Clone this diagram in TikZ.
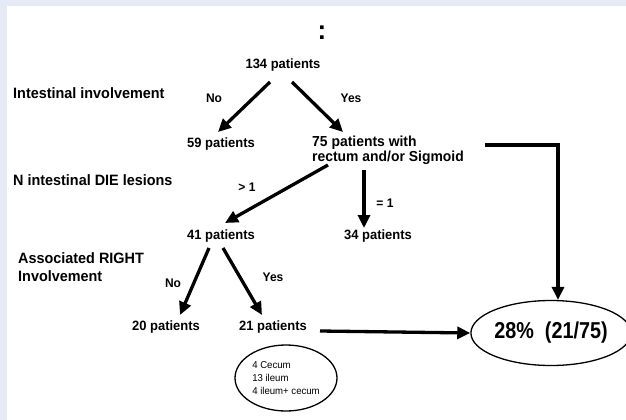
\documentclass[tikz,border=0pt]{standalone}
\usepackage{fontspec}
\setmainfont{Liberation Sans}[FakeStretch=0.96]
\newfontfamily\narrowfont{Liberation Sans}[FakeStretch=0.86]
\usetikzlibrary{arrows.meta,shapes.geometric}
\definecolor{framebg}{RGB}{229,234,246}
\tikzstyle{txt} = [font=\fontsize{13.5}{15}\selectfont\bfseries, inner sep=1pt]
\tikzstyle{cat} = [font=\fontsize{15}{18}\selectfont\bfseries, inner sep=1pt,
    anchor=west, align=left]
\tikzstyle{branch} = [font=\fontsize{12.5}{14}\selectfont\bfseries, inner sep=1pt]
\tikzstyle{flow} = [line width=3.3pt, -{Triangle[length=13pt,width=12pt]}]
\tikzstyle{result} = [draw, ellipse, line width=1.3pt, inner sep=0pt]

\begin{document}
\begin{tikzpicture}[x=1pt, y=-1pt, node distance=2cm]
    % frame
    \fill [framebg] (0,0) rectangle (626,420);
    \fill [white] (7,6) rectangle (626,420);
    \useasboundingbox (0,0) rectangle (626,420);

    % % % % % % % % % % % % % % % % % % % % % % %
    % Left column: the questions
    % % % % % % % % % % % % % % % % % % % % % % %
    \node [cat] (qint) at (12,93) {Intestinal involvement};
    \node [cat] (qdie) at (12,180) {N intestinal DIE lesions};
    \node [cat] (qright) at (17,267) {Associated RIGHT\\Involvement};

    % % % % % % % % % % % % % % % % % % % % % % %
    % Tree
    % % % % % % % % % % % % % % % % % % % % % % %
    \node [txt, font=\fontsize{27}{29}\selectfont\bfseries] (colon) at (322,33) {:};
    \node [txt] (p134) at (283,65) {134 patients};

    % first split
    \node [txt, below of=p134, node distance=79pt, xshift=-62pt] (p59) {59 patients};
    \node [txt, font=\fontsize{14.5}{15}\selectfont\bfseries, anchor=west, align=left]
        (p75) at (311,150) {75 patients with\\rectum and/or Sigmoid};

    % second split
    \node [txt] (p41) at (221,236) {41 patients};
    \node [txt, right of=p41, node distance=157pt] (p34) {34 patients};

    % third split
    \node [txt] (p20) at (166,327) {20 patients};
    \node [txt, right of=p20, node distance=107pt] (p21) {21 patients};

    % outcome
    \node [result, minimum width=142pt, minimum height=65pt,
        font=\fontsize{23}{25}\narrowfont\bfseries] (rate) at (551,333) {28\%\ \ (21/75)};
    \node [result, minimum width=102pt, minimum height=66pt, align=left,
        font=\fontsize{10}{13}\selectfont] (sites) at (286,378) {4 Cecum\\13 ileum\\4 ileum+ cecum};

    % answers on the branches
    \node [branch] (no1) at (214,98) {No};
    \node [branch] (yes1) at (351,98) {Yes};
    \node [branch] (gt1) at (247,187) {> 1};
    \node [branch] (eq1) at (385,203) {= 1};
    \node [branch] (no2) at (173,283) {No};
    \node [branch] (yes2) at (273,277) {Yes};

    % the arrows
    \draw [flow] ([shift={(-13,17)}]p134.center) -- ([shift={(-3,-12)}]p59.center);
    \draw [flow] ([shift={(9,17)}]p134.center) -- ([shift={(32,-18)}]p75.west);
    \draw [flow] ([shift={(17,15)}]p75.west) -- ([shift={(4,-13)}]p41.center);
    \draw [flow] ([shift={(53,20)}]p75.west) -- ([shift={(-14,-8)}]p34.center);
    \draw [flow] ([shift={(-12,12)}]p41.center) -- ([shift={(14,-12)}]p20.center);
    \draw [flow] ([shift={(2,12)}]p41.center) -- ([shift={(-11,-12)}]p21.center);
    \draw [flow] ([shift={(47,4)}]p21.center) -- (rate.west);
    \draw [flow] ([shift={(174,-5)}]p75.west) -| ([xshift=7]rate.north);
\end{tikzpicture}
\end{document}
